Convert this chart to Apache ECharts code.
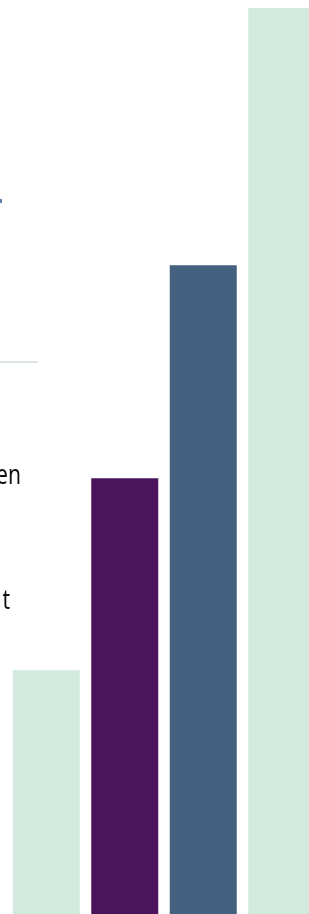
<!DOCTYPE html>
<html>
<head>
<meta charset="utf-8">
<script src="https://cdn.jsdelivr.net/npm/echarts@6/dist/echarts.min.js"></script>
<style>
html,body{margin:0;padding:0;background:#fff;}
#c{width:309px;height:914px;}
</style>
</head>
<body>
<div id="c"></div>
<script>
var categories = ['A', 'B', 'C', 'D'];
var values = [26.9, 48.1, 71.6, 100];
var barColors = ['#D2E9DD', '#4A155B', '#44617F', '#D2E9DD'];
var textFragments = ['en', 't'];

var chart = echarts.init(document.getElementById('c'), null, {renderer: 'canvas'});
chart.setOption({
  animation: false,
  backgroundColor: '#ffffff',
  grid: {left: 7, width: 314, top: 8, bottom: 0, containLabel: false, outerBoundsMode: 'none'},
  xAxis: {
    type: 'category', data: categories,
    axisLine: {show: false}, axisTick: {show: false}, axisLabel: {show: false}
  },
  yAxis: {
    type: 'value', min: 0, max: 100,
    axisLine: {show: false}, axisTick: {show: false}, axisLabel: {show: false},
    splitLine: {show: false}
  },
  series: [{
    type: 'bar',
    barWidth: 67,
    data: values.map(function (v, i) { return {value: v, itemStyle: {color: barColors[i]}}; })
  }],
  graphic: [
    {type: 'line', shape: {x1: 0, y1: 362, x2: 38, y2: 362}, style: {stroke: '#D3DDE2', lineWidth: 1.5}},
    {type: 'rect', shape: {x: 0, y: 199, width: 2, height: 4}, style: {fill: '#5A7FA8'}},
    {type: 'text', x: 21, y: 476, style: {text: textFragments[0], fill: '#111111', font: '27px "Noto Sans"', textAlign: 'right', textVerticalAlign: 'middle'}, scaleX: 0.78},
    {type: 'text', x: 10, y: 601, style: {text: textFragments[1], fill: '#111111', font: '27px "Noto Sans"', textAlign: 'right', textVerticalAlign: 'middle'}, scaleX: 0.78}
  ]
});
</script>
</body>
</html>
